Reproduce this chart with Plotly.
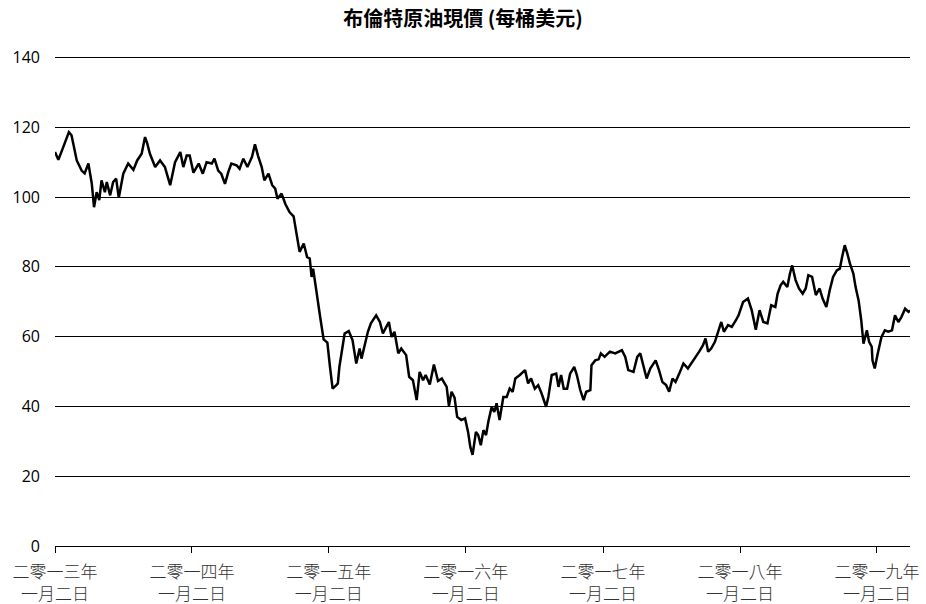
import plotly.graph_objects as go

dates = [
    "2013-01-02", "2013-01-11", "2013-01-24", "2013-02-08", "2013-02-15", "2013-03-01", "2013-03-14",
    "2013-03-22", "2013-04-01", "2013-04-10", "2013-04-16", "2013-04-23", "2013-04-30", "2013-05-06",
    "2013-05-15", "2013-05-20", "2013-05-29", "2013-06-06", "2013-06-14", "2013-06-21", "2013-07-03",
    "2013-07-16", "2013-07-30", "2013-08-09", "2013-08-21", "2013-08-30", "2013-09-05", "2013-09-12",
    "2013-09-26", "2013-10-09", "2013-10-22", "2013-11-05", "2013-11-18", "2013-12-02", "2013-12-10",
    "2013-12-19", "2013-12-27",
    "2014-01-06", "2014-01-20", "2014-01-31", "2014-02-10", "2014-02-24", "2014-03-03", "2014-03-13",
    "2014-03-21", "2014-03-31", "2014-04-09", "2014-04-17", "2014-05-01", "2014-05-09", "2014-05-19",
    "2014-05-30", "2014-06-11", "2014-06-19", "2014-06-27", "2014-07-07", "2014-07-14", "2014-07-25",
    "2014-08-04", "2014-08-12", "2014-08-18", "2014-08-29", "2014-09-08", "2014-09-19", "2014-09-30",
    "2014-10-06", "2014-10-16", "2014-10-27", "2014-11-05", "2014-11-12", "2014-11-17", "2014-11-21",
    "2014-12-01", "2014-12-10", "2014-12-19", "2014-12-29",
    "2015-01-05", "2015-01-12", "2015-01-22", "2015-01-26", "2015-01-30", "2015-02-06", "2015-02-13",
    "2015-02-24", "2015-03-06", "2015-03-16", "2015-03-25", "2015-03-30", "2015-04-07", "2015-04-16",
    "2015-04-24", "2015-05-08", "2015-05-18", "2015-05-26", "2015-06-04", "2015-06-11", "2015-06-18",
    "2015-06-26", "2015-07-06", "2015-07-14", "2015-07-27", "2015-08-04", "2015-08-14", "2015-08-24",
    "2015-09-01", "2015-09-10", "2015-09-17", "2015-09-28", "2015-10-09", "2015-10-20", "2015-10-30",
    "2015-11-12", "2015-11-18", "2015-11-25", "2015-12-03", "2015-12-10", "2015-12-21", "2015-12-31",
    "2016-01-08", "2016-01-14", "2016-01-20", "2016-01-29", "2016-02-04", "2016-02-11", "2016-02-18",
    "2016-02-25", "2016-03-02", "2016-03-11", "2016-03-18", "2016-03-24", "2016-04-01", "2016-04-11",
    "2016-04-20", "2016-04-28", "2016-05-06", "2016-05-13", "2016-05-25", "2016-06-08", "2016-06-16",
    "2016-06-24", "2016-07-04", "2016-07-13", "2016-07-22", "2016-08-03", "2016-08-09", "2016-08-18",
    "2016-08-30", "2016-09-05", "2016-09-12", "2016-09-19", "2016-09-28", "2016-10-06", "2016-10-17",
    "2016-10-24", "2016-11-02", "2016-11-11", "2016-11-18", "2016-11-29", "2016-12-02", "2016-12-12",
    "2016-12-21", "2016-12-27",
    "2017-01-06", "2017-01-20", "2017-02-03", "2017-02-21", "2017-03-02", "2017-03-10", "2017-03-24",
    "2017-04-03", "2017-04-11", "2017-04-20", "2017-04-28", "2017-05-08", "2017-05-22", "2017-05-31",
    "2017-06-09", "2017-06-19", "2017-06-27", "2017-07-06", "2017-07-14", "2017-07-24", "2017-08-04",
    "2017-08-16", "2017-08-25", "2017-09-07", "2017-09-15", "2017-09-25", "2017-10-02", "2017-10-09",
    "2017-10-17", "2017-10-27", "2017-11-06", "2017-11-13", "2017-11-20", "2017-12-01", "2017-12-11",
    "2017-12-19", "2017-12-22", "2017-12-29",
    "2018-01-10", "2018-01-23", "2018-02-02", "2018-02-13", "2018-02-23", "2018-03-05", "2018-03-16",
    "2018-03-26", "2018-04-06", "2018-04-12", "2018-04-20", "2018-04-27", "2018-05-08", "2018-05-15",
    "2018-05-21", "2018-05-30", "2018-06-08", "2018-06-18", "2018-06-26", "2018-07-03", "2018-07-13",
    "2018-07-23", "2018-08-02", "2018-08-10", "2018-08-20", "2018-08-29", "2018-09-07", "2018-09-17",
    "2018-09-25", "2018-10-01", "2018-10-08", "2018-10-15", "2018-10-22", "2018-10-31", "2018-11-06",
    "2018-11-14", "2018-11-21", "2018-11-27", "2018-12-06", "2018-12-12", "2018-12-19", "2018-12-21",
    "2018-12-27",
    "2019-01-04", "2019-01-14", "2019-01-23", "2019-02-01", "2019-02-11", "2019-02-19", "2019-02-28",
    "2019-03-08", "2019-03-18", "2019-03-27", "2019-03-31",
]

brent = [
    112.9, 110.7, 114.3, 118.6, 117.7, 110.5, 107.6,
    106.8, 109.6, 103.9, 97.1, 101.4, 99.1, 104.8,
    101.4, 104.3, 100.5, 104.3, 105.3, 99.8, 106.7,
    109.6, 107.8, 110.5, 112.4, 117.2, 115.3, 112.4,
    108.6, 110.5, 108.6, 103.4, 110.0, 112.9, 108.6,
    111.9, 111.9,
    107.0, 109.6, 106.7, 110.0, 109.6, 111.0, 107.6,
    106.7, 103.8, 107.2, 109.6, 109.1, 108.1, 111.0,
    108.6, 111.5, 115.1, 111.9, 108.6, 104.8, 106.7,
    103.4, 102.4, 99.5, 101.0, 98.0, 95.7, 94.5,
    90.5, 84.3, 86.7, 82.8, 82.4, 77.1, 79.5,
    71.4, 65.5, 59.2, 58.3,
    51.3, 45.1, 46.1, 46.6, 51.3, 55.5, 60.9,
    61.6, 59.0, 52.3, 56.6, 53.7, 57.1, 61.4,
    63.8, 66.1, 64.2, 60.9, 62.8, 64.2, 59.9,
    61.4, 55.2, 56.6, 54.7, 48.5, 47.5, 41.8,
    49.9, 47.5, 49.0, 46.3, 52.0, 47.3, 48.0,
    45.6, 40.2, 44.2, 42.5, 37.0, 36.1, 36.6,
    32.7, 28.4, 26.1, 32.7, 31.8, 28.9, 33.2,
    31.8, 35.6, 39.9, 38.4, 40.9, 36.1, 42.7,
    42.7, 45.1, 44.2, 48.0, 49.0, 50.4, 46.6,
    48.0, 45.1, 46.1, 43.7, 39.9, 42.7, 49.0,
    49.4, 45.6, 49.0, 45.1, 45.1, 49.4, 51.3,
    49.0, 44.7, 41.8, 44.2, 44.7, 51.8, 53.2,
    53.5, 55.2,
    54.2, 55.7, 55.2, 56.1, 54.2, 50.4, 49.9,
    54.2, 55.2, 51.3, 48.0, 50.9, 53.2, 50.4,
    47.0, 46.1, 44.2, 48.0, 47.0, 49.4, 52.3,
    50.9, 52.3, 54.2, 55.7, 57.5, 59.5, 55.7,
    56.6, 58.5, 61.8, 64.2, 61.4, 63.3, 62.8,
    64.5, 64.7, 66.1,
    69.9, 70.9, 67.6, 62.0, 67.6, 64.2, 63.8,
    69.0, 68.5, 72.3, 74.7, 75.7, 74.2, 78.1,
    80.4, 76.2, 73.8, 72.3, 73.8, 77.6, 77.1,
    71.9, 73.8, 70.9, 68.5, 73.3, 77.1, 79.0,
    79.5, 82.8, 86.2, 83.8, 80.9, 78.1, 74.2,
    70.4, 64.7, 58.0, 61.8, 58.5, 57.1, 53.2,
    50.9,
    55.2, 59.9, 61.8, 61.4, 61.8, 66.1, 64.2,
    65.6, 68.0, 67.1, 67.5,
]

tick_dates = ["2013-01-02", "2014-01-02", "2015-01-02", "2016-01-02",
              "2017-01-02", "2018-01-02", "2019-01-02"]
tick_labels = ["二零一三年<br>一月二日", "二零一四年<br>一月二日", "二零一五年<br>一月二日",
               "二零一六年<br>一月二日", "二零一七年<br>一月二日", "二零一八年<br>一月二日",
               "二零一九年<br>一月二日"]
y_ticks = [0, 20, 40, 60, 80, 100, 120, 140]

fig = go.Figure()
fig.add_trace(go.Scatter(
    x=dates, y=brent, mode="lines",
    line=dict(color="#000000", width=2.5),
    hoverinfo="x+y", showlegend=False,
))

fig.update_layout(
    width=926, height=604,
    margin=dict(l=55, r=16, t=54, b=58),
    paper_bgcolor="white", plot_bgcolor="white",
    title=dict(
        text="<b>布倫特原油現價 (每桶美元)</b>",
        x=0.5, xanchor="center", y=0.968, yanchor="middle",
        font=dict(family="Noto Sans CJK TC", size=20, color="#000000"),
    ),
    xaxis=dict(
        type="date",
        automargin=False,
        range=["2013-01-02", "2019-03-31"],
        tickvals=tick_dates, ticktext=tick_labels,
        ticks="outside", ticklen=6, tickwidth=1, tickcolor="#000000",
        showline=True, linecolor="#000000", linewidth=1.3,
        showgrid=False, zeroline=False,
        ticklabelstandoff=4,
        tickfont=dict(family="Noto Sans CJK TC", size=17, color="#333333", weight=300),
    ),
    yaxis=dict(
        automargin=False,
        range=[0, 141],
        tickvals=y_ticks,
        showgrid=True, gridcolor="#000000", gridwidth=1,
        zeroline=False, showline=False, ticks="",
        ticklabelstandoff=14,
        tickfont=dict(family="Open Sans", size=16, color="#000000"),
    ),
)

fig.write_html("out.html")
